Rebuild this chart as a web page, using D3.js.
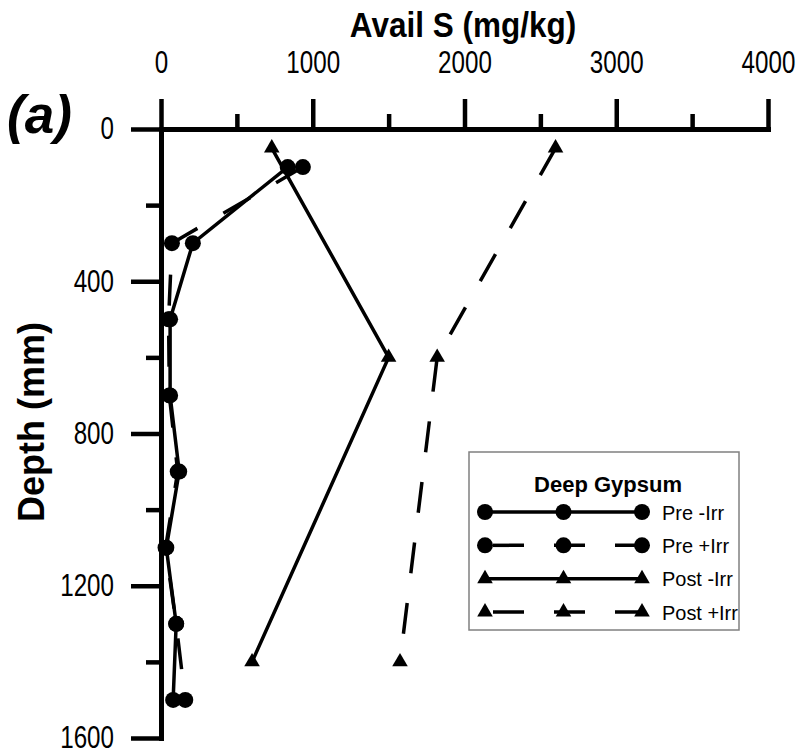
<!DOCTYPE html>
<html>
<head>
<meta charset="utf-8">
<script src="https://cdn.jsdelivr.net/npm/d3@7"></script>
<style>
  html, body { margin: 0; padding: 0; background: #fff; }
  svg { display: block; }
  text { font-family: "Liberation Sans", Arial, sans-serif; fill: #000; }
</style>
</head>
<body>
<svg id="chart" width="803" height="755"></svg>
<script>
// Available sulfur profiles, deep gypsum treatment
const depthPre = [100, 300, 500, 700, 900, 1100, 1300, 1500];
const preNoIrr = [835, 210, 60, 60, 120, 35, 100, 80];
const preIrr = [935, 72, 50, 55, 110, 30, 100, 160];

const depthPost = [50, 600, 1400];
const postNoIrr = [730, 1500, 600];
const postIrr = [2600, 1820, 1575];

const xMajorTicks = [0, 1000, 2000, 3000, 4000];
const xMinorTicks = [500, 1500, 2500, 3500];
const yMajorTicks = [0, 400, 800, 1200, 1600];
const yMinorTicks = [200, 600, 1000, 1400];

const seriesNames = ["Pre -Irr", "Pre +Irr", "Post -Irr", "Post +Irr"];

const svg = d3.select("#chart");

const x = d3.scaleLinear().domain([0, 4000]).range([161, 768]);
const y = d3.scaleLinear().domain([0, 1600]).range([129, 738]);

const DASH = "31,30";
const NARROW = 0.78;   // horizontal squeeze for the condensed tick / title type

const series = [
  { name: seriesNames[0], depths: depthPre, values: preNoIrr, marker: "circle", dashed: false },
  { name: seriesNames[1], depths: depthPre, values: preIrr, marker: "circle", dashed: true },
  { name: seriesNames[2], depths: depthPost, values: postNoIrr, marker: "triangle", dashed: false },
  { name: seriesNames[3], depths: depthPost, values: postIrr, marker: "triangle", dashed: true }
];

// ---- axes ----
const gx = svg.append("g").attr("transform", `translate(0,${y(0)})`);
gx.call(d3.axisTop(x).tickValues(xMajorTicks).tickSize(30).tickSizeOuter(0).tickPadding(26).tickFormat(d3.format("d")));
const gxMinor = svg.append("g").attr("transform", `translate(0,${y(0)})`);
gxMinor.call(d3.axisTop(x).tickValues(xMinorTicks).tickSize(15).tickSizeOuter(0).tickFormat(""));

const gy = svg.append("g").attr("transform", `translate(${x(0)},0)`);
gy.call(d3.axisLeft(y).tickValues(yMajorTicks).tickSize(30).tickSizeOuter(0).tickPadding(17).tickFormat(d3.format("d")));
const gyMinor = svg.append("g").attr("transform", `translate(${x(0)},0)`);
gyMinor.call(d3.axisLeft(y).tickValues(yMinorTicks).tickSize(15).tickSizeOuter(0).tickFormat(""));

svg.selectAll(".domain").attr("stroke", "#000").attr("stroke-width", 5).attr("stroke-linecap", "square");
svg.selectAll(".tick line").attr("stroke", "#000").attr("stroke-width", 4.5);
svg.selectAll(".tick text")
  .attr("font-family", "Liberation Sans, Arial, sans-serif")
  .attr("font-size", 31)
  .attr("fill", "#000")
  .attr("transform", `scale(${NARROW},1)`);
// keep the y labels right-aligned at the same spot after squeezing
gy.selectAll(".tick text").attr("x", -47 / NARROW);
gxMinor.select(".domain").remove();
gyMinor.select(".domain").remove();

// ---- axis titles ----
svg.append("text")
  .attr("transform", "translate(463,37) scale(0.9,1)")
  .attr("text-anchor", "middle")
  .attr("font-weight", "bold")
  .attr("font-size", 35)
  .text("Avail S (mg/kg)");

svg.append("text")
  .attr("transform", "translate(44,422) rotate(-90)")
  .attr("text-anchor", "middle")
  .attr("font-weight", "bold")
  .attr("font-size", 36)
  .text("Depth (mm)");

svg.append("text")
  .attr("x", 7).attr("y", 133)
  .attr("font-weight", "bold")
  .attr("font-style", "italic")
  .attr("font-size", 53)
  .text("(a)");

// ---- series ----
const line = d3.line().x(d => x(d.v)).y(d => y(d.d));
const circleSym = d3.symbol().type(d3.symbolCircle).size(Math.PI * 8 * 8);
const triSym = d3.symbol().type(d3.symbolTriangle).size(105);

series.forEach(s => {
  const pts = s.depths.map((d, i) => ({ d: d, v: s.values[i] }));
  const g = svg.append("g");
  g.append("path")
    .datum(pts)
    .attr("d", line)
    .attr("fill", "none")
    .attr("stroke", "#000")
    .attr("stroke-width", 3.5)
    .attr("stroke-dasharray", s.dashed ? DASH : null);
  g.selectAll("path.m")
    .data(pts)
    .join("path")
    .attr("class", "m")
    .attr("transform", d => `translate(${x(d.v)},${y(d.d)})`)
    .attr("d", s.marker === "circle" ? circleSym : triSym)
    .attr("fill", "#000");
});

// ---- legend ----
const leg = svg.append("g");
leg.append("rect")
  .attr("x", 469).attr("y", 452)
  .attr("width", 270).attr("height", 178)
  .attr("fill", "#fff")
  .attr("stroke", "#808080")
  .attr("stroke-width", 1.5);
leg.append("text")
  .attr("x", 608).attr("y", 492)
  .attr("text-anchor", "middle")
  .attr("font-weight", "bold")
  .attr("font-size", 22)
  .text("Deep Gypsum");

const legX = d3.scaleLinear().domain([0, 2]).range([485, 642]);
const legY = d3.scaleLinear().domain([0, 3]).range([512, 612]);
series.forEach((s, i) => {
  const row = leg.append("g").attr("transform", `translate(0,${legY(i)})`);
  row.append("line")
    .attr("x1", legX(0)).attr("x2", legX(2))
    .attr("y1", 0).attr("y2", 0)
    .attr("stroke", "#000")
    .attr("stroke-width", 3.5)
    .attr("stroke-dasharray", s.dashed ? DASH : null)
    .attr("stroke-dashoffset", s.dashed ? 53 : null);
  row.selectAll("path")
    .data([0, 1, 2])
    .join("path")
    .attr("transform", k => `translate(${legX(k)},0)`)
    .attr("d", s.marker === "circle" ? circleSym : triSym)
    .attr("fill", "#000");
  row.append("text")
    .attr("transform", `translate(662,7.5) scale(0.95,1)`)
    .attr("font-size", 21)
    .text(s.name);
});
</script>
</body>
</html>
